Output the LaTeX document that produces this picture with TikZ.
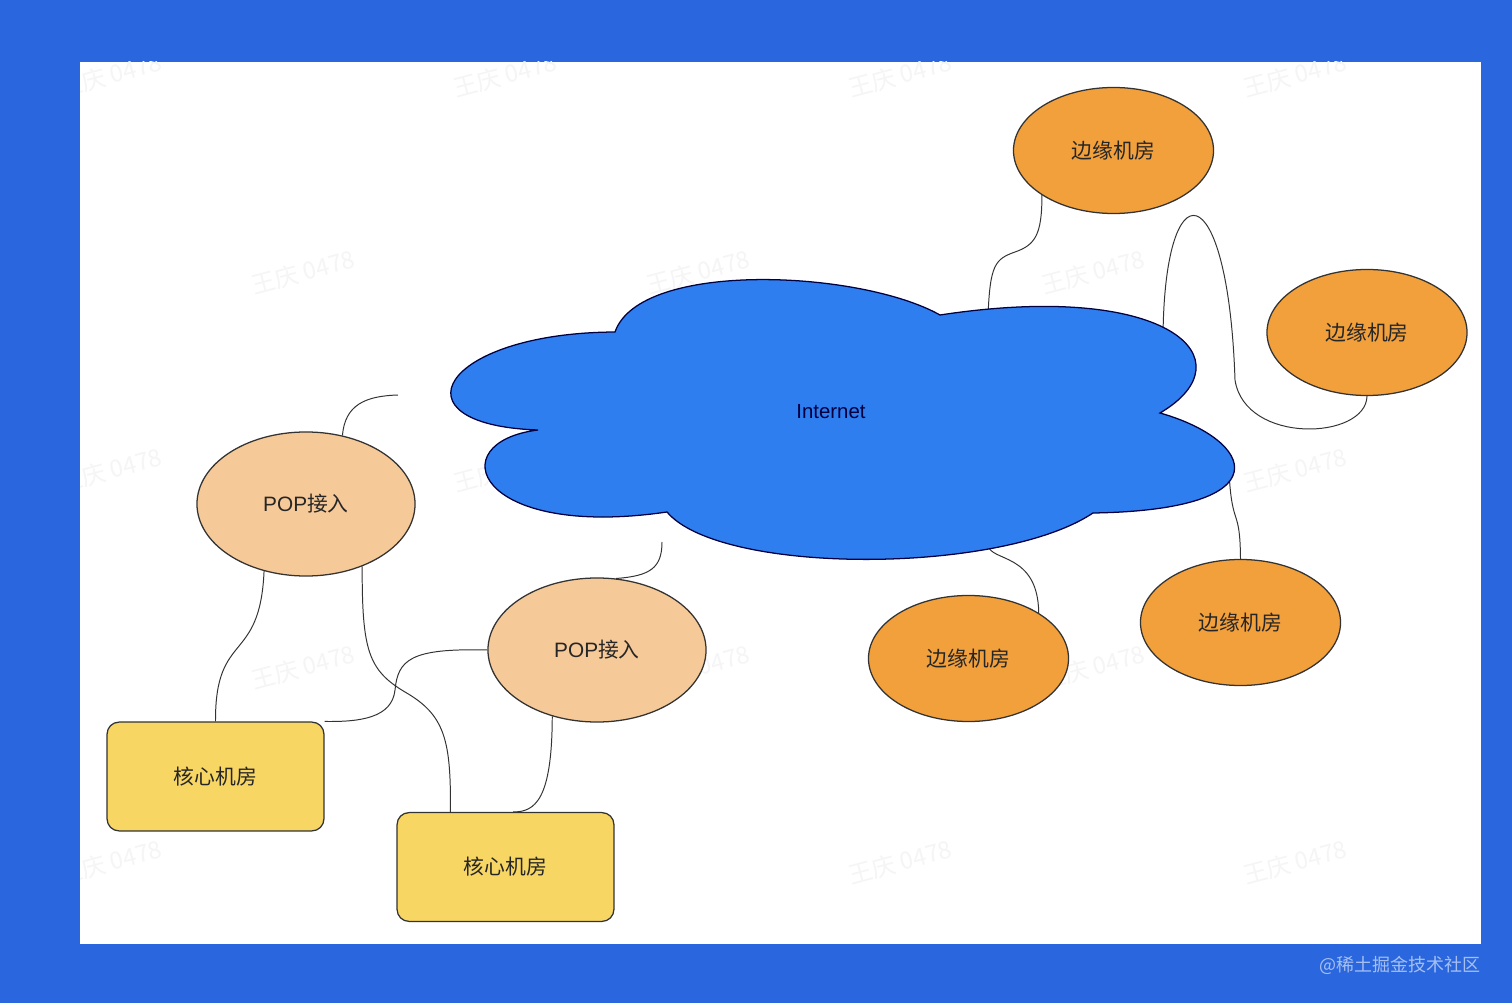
\documentclass[tikz,border=0pt]{standalone}
\usepackage{fontspec}
\setmainfont{Liberation Sans}
\newfontfamily\cjk{Noto Sans CJK SC}
\usetikzlibrary{shapes.geometric}
\definecolor{bgblue}{HTML}{2A67DE}
\definecolor{netblue}{HTML}{2F7EEF}
\definecolor{edgeorg}{HTML}{F1A03C}
\definecolor{poppeach}{HTML}{F6C998}
\definecolor{coreyel}{HTML}{F8D664}
\definecolor{siteblue}{HTML}{A6BFF0}

\begin{document}
\begin{tikzpicture}[x=0.025cm,y=-0.025cm,
    label/.style={font=\fontsize{14.8}{17}\selectfont,text=black!85},
    edgeroom/.style={label,ellipse,draw=black!80,line width=0.9pt,fill=edgeorg,
      minimum width=5cm,minimum height=3.15cm,inner sep=0pt},
    poproom/.style={label,ellipse,draw=black!80,line width=0.9pt,fill=poppeach,
      minimum width=5.45cm,minimum height=3.6cm,inner sep=0pt},
    coreroom/.style={label,rectangle,rounded corners=0.3cm,draw=black!80,line width=0.9pt,
      fill=coreyel,minimum width=5.42cm,minimum height=2.72cm,inner sep=0pt},
    link/.style={draw=black!80,line width=0.7pt},
    wmark/.style={font=\cjk\fontsize{17}{20}\selectfont,text=black!4,rotate=15}]
  \fill[bgblue] (0,0) rectangle (1512,1003);
  \fill[white] (80,62) rectangle (1481,944);
  \begin{scope}
    \clip (80,62) rectangle (1481,944);
    \foreach \x/\y in {110/75,505/75,900/75,1295/75,110/470,505/470,900/470,1295/470,
        110/862,900/862,1295/862,303/272,698/272,1093/272,303/667,698/667,1093/667}
      \node[wmark] (wm\x-\y) at (\x,\y) {王庆 0478};
  \end{scope}
  \node[anchor=east,font=\cjk\fontsize{12.8}{15}\selectfont,text=siteblue] (site) at (1485,965) {@稀土掘金技术社区};

  \node[edgeroom] (edgetop) at (1113.5,150.5) {\cjk 边缘机房};
  \node[edgeroom] (edgeright) at (1367,332.5) {\cjk 边缘机房};
  \node[edgeroom] (edgemid) at (968.5,658.5) {\cjk 边缘机房};
  \node[edgeroom] (edgelow) at (1240.5,622.5) {\cjk 边缘机房};
  \node[poproom] (popa) at (306,504) {POP{\cjk 接入}};
  \node[poproom] (popb) at (597,650) {POP{\cjk 接入}};
  \node[coreroom] (corea) at (215.5,776.5) {\cjk 核心机房};
  \node[coreroom] (coreb) at (505.5,867) {\cjk 核心机房};

  \coordinate (net-top) at (988,316);
  \coordinate (net-loop) at (1163,342);
  \coordinate (net-mid) at (988,545);
  \coordinate (net-low) at (1229,472);
  \coordinate (popa-end) at (398,395);
  \coordinate (popb-end) at (662,542);

  \draw[link] (edgetop.212) .. controls (1042,235) and (1035,245) .. (1015,252)
    .. controls (995,259) and (990,265) .. (net-top);
  \draw[link] (net-loop) .. controls (1163,165) and (1228,170) .. (1235,380)
    .. controls (1245,445) and (1366,440) .. (edgeright.south);
  \draw[link] (net-mid) .. controls (990,562) and (1038,552) .. (edgemid.33);
  \draw[link] (net-low) .. controls (1232,530) and (1240,505) .. (edgelow.north);
  \draw[link] (popa.62) .. controls (345,405) and (365,396) .. (popa-end);
  \draw[link] (popb-end) .. controls (662,568) and (650,576) .. (popb.75);
  \draw[link] (popa.238) .. controls (260,665) and (215,630) .. (corea.north);
  \draw[link] (popb.west) .. controls (410,648) and (398,660) .. (395,690)
    .. controls (392,718) and (360,722) .. (corea.north east);
  \draw[link] (popa.-48) .. controls (362,650) and (368,670) .. (405,692)
    .. controls (445,715) and (451,740) .. (coreb.135);
  \draw[link] (popb.-124) .. controls (552,800) and (535,812) .. (coreb.82);

  \draw[fill=netblue,draw=black!75!blue,line width=0.9pt] (615,332)
    .. controls (440,333) and (390,425) .. (538,430)
    .. controls (440,442) and (475,540) .. (667,512)
    .. controls (720,575) and (1000,575) .. (1093,513)
    .. controls (1285,510) and (1255,440) .. (1160,413)
    .. controls (1250,360) and (1170,280) .. (940,315)
    .. controls (860,270) and (640,260) .. (615,332) -- cycle;
  \node[font=\fontsize{14.5}{17}\selectfont,text=blue!25!black] (net) at (831,412) {Internet};
\end{tikzpicture}
\end{document}
